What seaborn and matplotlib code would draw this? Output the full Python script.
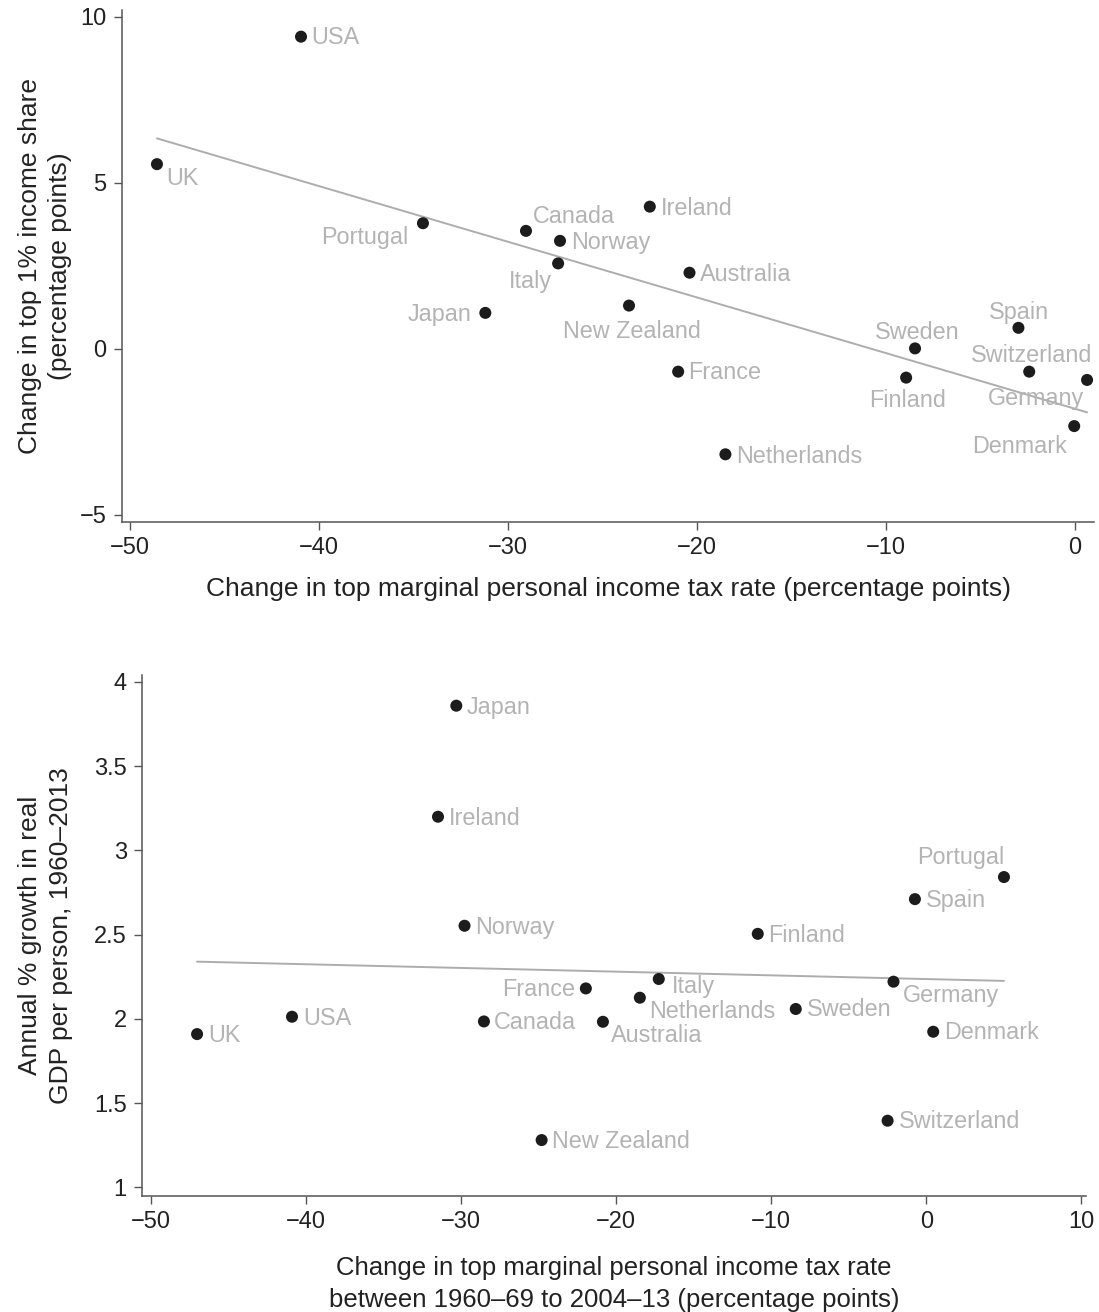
import matplotlib
matplotlib.use("Agg")
import matplotlib.pyplot as plt
import seaborn as sns
import pandas as pd

# ---------------- data ----------------
countries_top = ["USA", "UK", "Portugal", "Canada", "Norway", "Ireland", "Italy",
                 "Australia", "Japan", "New Zealand", "France", "Netherlands",
                 "Sweden", "Finland", "Spain", "Switzerland", "Germany", "Denmark"]
tax_change_top = [-40.95, -48.57, -34.5, -29.05, -27.25, -22.5, -27.35,
                  -20.4, -31.2, -23.6, -21.0, -18.5,
                  -8.47, -8.94, -3.0, -2.43, 0.63, -0.05]
top1_share_change = [9.40, 5.56, 3.78, 3.55, 3.25, 4.28, 2.57,
                     2.29, 1.08, 1.30, -0.69, -3.18,
                     0.01, -0.87, 0.63, -0.69, -0.94, -2.33]

countries_bot = ["Japan", "Ireland", "Norway", "Portugal", "Spain", "Finland", "Italy",
                 "France", "Netherlands", "Australia", "Sweden", "Germany", "Denmark",
                 "Switzerland", "New Zealand", "UK", "USA", "Canada"]
tax_change_bot = [-30.29, -31.47, -29.76, 5.01, -0.73, -10.86, -17.24,
                  -21.94, -18.46, -20.84, -8.41, -2.11, 0.45,
                  -2.49, -24.79, -47.0, -40.88, -28.51]
gdp_growth = [3.858, 3.199, 2.552, 2.841, 2.710, 2.504, 2.236,
              2.180, 2.125, 1.982, 2.058, 2.220, 1.923,
              1.395, 1.280, 1.909, 2.012, 1.984]

top_xticks = [-50, -40, -30, -20, -10, 0]
top_yticks = [-5, 0, 5, 10]
bot_xticks = [-50, -40, -30, -20, -10, 0, 10]
bot_yticks = [1, 1.5, 2, 2.5, 3, 3.5, 4]
bot_yticklabels = ["1", "1.5", "2", "2.5", "3", "3.5", "4"]

# label placement (pixel offsets: dx right, dy down, horizontal alignment)
top_label_pos = {
    "USA": (10, 7.6, "left"), "UK": (9, 21, "left"), "Portugal": (-14.7, 21, "right"),
    "Canada": (6.7, -8.3, "left"), "Norway": (10.7, 8.6, "left"),
    "Ireland": (10.7, 8.3, "left"), "Italy": (-6, 24.4, "right"),
    "Australia": (10.7, 8.3, "left"), "Japan": (-14, 8, "right"),
    "New Zealand": (3, 32.6, "center"), "France": (10.4, 7.6, "left"),
    "Netherlands": (11, 8.4, "left"), "Sweden": (2, -9, "center"),
    "Finland": (1, 29, "center"), "Spain": (1, -8.4, "center"),
    "Switzerland": (2, -10, "center"), "Germany": (-3, 25, "right"),
    "Denmark": (-7, 27.3, "right"),
}
bot_label_pos = {
    "Japan": (10.6, 8.3, "left"), "Ireland": (10.4, 8.3, "left"),
    "Norway": (10.7, 8.3, "left"), "Portugal": (0, -12.7, "right"),
    "Spain": (10.5, 7.7, "left"), "Finland": (10.5, 8, "left"),
    "Italy": (13, 13.7, "left"), "France": (-11, 7.4, "right"),
    "Netherlands": (9.2, 20, "left"), "Australia": (8.4, 20, "left"),
    "Sweden": (11, 7, "left"), "Germany": (9.2, 20, "left"),
    "Denmark": (11.2, 7.3, "left"), "Switzerland": (11.2, 7, "left"),
    "New Zealand": (10, 8, "left"), "UK": (11, 7.7, "left"),
    "USA": (11.3, 8, "left"), "Canada": (10.4, 7.7, "left"),
}

# ---------------- style ----------------
sns.set_style("ticks")
plt.rcParams["font.family"] = ["Liberation Sans", "DejaVu Sans"]
plt.rcParams["axes.unicode_minus"] = True

DOT = "#1c1c1c"
LABEL = "#b3b3b3"
LINE = "#adadad"
AXC = "#555555"
TXT = "#222222"

fig = plt.figure(figsize=(10.99, 13.12), dpi=100)
ax1 = fig.add_axes([0.111, 0.6021, 0.8845, 0.3902])
ax2 = fig.add_axes([0.1292, 0.0884, 0.859, 0.3971])

df_top = pd.DataFrame({"country": countries_top, "tax": tax_change_top,
                       "share": top1_share_change})
df_bot = pd.DataFrame({"country": countries_bot, "tax": tax_change_bot,
                       "gdp": gdp_growth})


def draw(ax, df, ycol, pos):
    sns.regplot(data=df, x="tax", y=ycol, ax=ax, scatter=False, ci=None,
                truncate=True, line_kws=dict(color=LINE, lw=1.4, zorder=2))
    sns.scatterplot(data=df, x="tax", y=ycol, ax=ax, color=DOT, s=75,
                    edgecolor="none", linewidth=0, zorder=3)
    for c, xv, yv in zip(df["country"], df["tax"], df[ycol]):
        dx, dy, ha = pos[c]
        ax.annotate(c, (xv, yv), xytext=(dx, -dy), textcoords="offset pixels",
                    ha=ha, va="baseline", color=LABEL, fontsize=16.8, zorder=4)


draw(ax1, df_top, "share", top_label_pos)
draw(ax2, df_bot, "gdp", bot_label_pos)

ax1.set_xlim(-50.42, 1.0)
ax1.set_ylim(-5.22, 10.2)
ax1.set_xticks(top_xticks)
ax1.set_yticks(top_yticks)
ax1.set_xlabel("Change in top marginal personal income tax rate (percentage points)",
               fontsize=19, color=TXT, labelpad=13)
ax1.set_ylabel("Change in top 1% income share\n(percentage points)",
               fontsize=19, color=TXT, labelpad=6, linespacing=1.3)

ax2.set_xlim(-50.55, 10.3)
ax2.set_ylim(0.948, 4.04)
ax2.set_xticks(bot_xticks)
ax2.set_yticks(bot_yticks)
ax2.set_yticklabels(bot_yticklabels)
ax2.set_xlabel("Change in top marginal personal income tax rate\n"
               "between 1960\u201369 to 2004\u201313 (percentage points)",
               fontsize=18.5, color=TXT, labelpad=16, linespacing=1.45)
ax2.set_ylabel("Annual % growth in real\nGDP per person, 1960\u20132013",
               fontsize=19, color=TXT, labelpad=15, linespacing=1.35)

for ax in (ax1, ax2):
    sns.despine(ax=ax)
    for s in ("left", "bottom"):
        ax.spines[s].set_color(AXC)
        ax.spines[s].set_linewidth(1.1)
    ax.tick_params(axis="both", direction="out", length=6, width=1.0,
                   color=AXC, labelsize=17, labelcolor=TXT, pad=5)

fig.savefig("out.png", dpi=100)
